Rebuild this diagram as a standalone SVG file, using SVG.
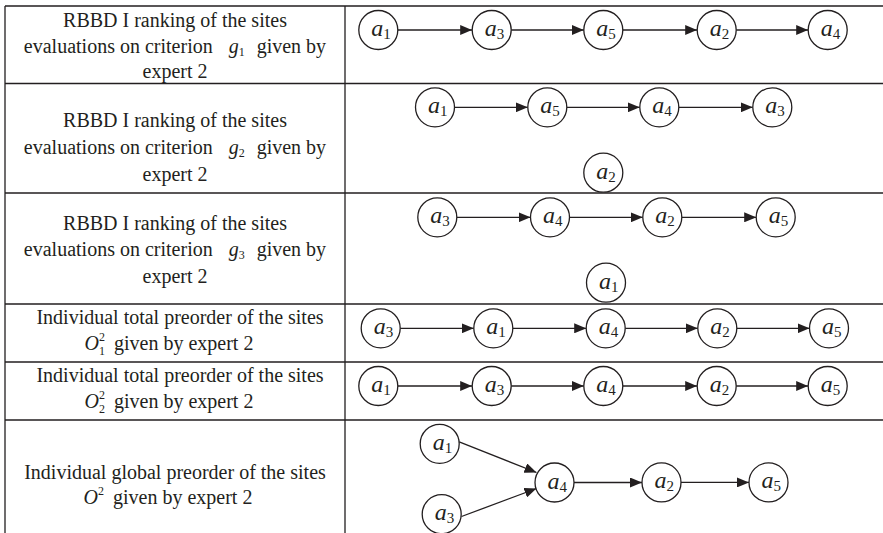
<svg xmlns="http://www.w3.org/2000/svg" width="883" height="533" viewBox="0 0 883 533">
<style>
.grid{stroke:#231f20;stroke-width:1.3;fill:none}
.lbl{font-family:"Liberation Serif","Times New Roman",serif;font-size:20px;fill:#231f20;text-anchor:middle}
.it{font-style:italic}
.sm{font-size:12px}
.node circle{fill:#fff;stroke:#231f20;stroke-width:1.3}
.node text{font-family:"Liberation Serif","Times New Roman",serif;font-size:24px;fill:#231f20;text-anchor:middle}
.node .a{font-style:italic}
.node .s{font-size:15px;font-style:normal}
.edge{stroke:#231f20;stroke-width:1.3;fill:none;marker-end:url(#ah)}
</style>
<defs>
<marker id="ah" markerWidth="12" markerHeight="10" refX="12" refY="5" orient="auto" markerUnits="userSpaceOnUse"><path d="M0,0 L12,5 L0,10 z" fill="#231f20"/></marker>
</defs>
<rect width="883" height="533" fill="#fff"/>
<g id="table">
<path class="grid" d="M5,6H883M5,83.5H883M5,193H883M5,304H883M5,362H883M5,420H883M5,6V533M345,6V533"/>
</g>
<g id="labels">
<text class="lbl" x="175" y="26.5">RBBD I ranking of the sites</text>
<text class="lbl" x="175" y="52.5">evaluations on criterion<tspan class="it" dx="16">g</tspan><tspan class="sm" dy="3">1</tspan><tspan dy="-3" dx="12">given by</tspan></text>
<text class="lbl" x="175" y="77.5">expert 2</text>
<text class="lbl" x="175" y="127">RBBD I ranking of the sites</text>
<text class="lbl" x="175" y="154">evaluations on criterion<tspan class="it" dx="16">g</tspan><tspan class="sm" dy="3">2</tspan><tspan dy="-3" dx="12">given by</tspan></text>
<text class="lbl" x="175" y="180.5">expert 2</text>
<text class="lbl" x="175" y="229.5">RBBD I ranking of the sites</text>
<text class="lbl" x="175" y="256">evaluations on criterion<tspan class="it" dx="16">g</tspan><tspan class="sm" dy="3">3</tspan><tspan dy="-3" dx="12">given by</tspan></text>
<text class="lbl" x="175" y="282.5">expert 2</text>
<text class="lbl" x="180" y="323.5">Individual total preorder of the sites</text>
<text class="lbl" x="169" y="349.5"><tspan class="it">O</tspan><tspan class="sm" dy="-9">2</tspan><tspan class="sm" dx="-6" dy="14">1</tspan><tspan dy="-5" dx="9">given by expert 2</tspan></text>
<text class="lbl" x="180" y="381.5">Individual total preorder of the sites</text>
<text class="lbl" x="169" y="407.5"><tspan class="it">O</tspan><tspan class="sm" dy="-9">2</tspan><tspan class="sm" dx="-6" dy="14">2</tspan><tspan dy="-5" dx="9">given by expert 2</tspan></text>
<text class="lbl" x="175" y="478.5">Individual global preorder of the sites</text>
<text class="lbl" x="168" y="503.5"><tspan class="it">O</tspan><tspan class="sm" dy="-9">2</tspan><tspan dy="9" dx="9">given by expert 2</tspan></text>
</g>
<g id="connectors">
<path class="edge" d="M397.8,30H472.2"/>
<path class="edge" d="M511.2,30H583.8"/>
<path class="edge" d="M622.8,30H697.2"/>
<path class="edge" d="M736.2,30H808.2"/>
<path class="edge" d="M454.5,107.3H527.8"/>
<path class="edge" d="M566.8,107.3H639.8"/>
<path class="edge" d="M678.8,107.3H752.8"/>
<path class="edge" d="M456.8,217.3H530.5"/>
<path class="edge" d="M569.5,217.3H642.8"/>
<path class="edge" d="M681.8,217.3H756.2"/>
<path class="edge" d="M400.2,328.3H473.8"/>
<path class="edge" d="M512.8,328.3H586.2"/>
<path class="edge" d="M625.2,328.3H697.8"/>
<path class="edge" d="M736.8,328.3H809.5"/>
<path class="edge" d="M397.8,386H472.2"/>
<path class="edge" d="M511.2,386H583.8"/>
<path class="edge" d="M622.8,386H697.2"/>
<path class="edge" d="M736.2,386H808.2"/>
<path class="edge" d="M459.2,441.8L536.5,472.5"/>
<path class="edge" d="M461.5,516.5L536.5,488.5"/>
<path class="edge" d="M574,482.5H642"/>
<path class="edge" d="M681,482.4H749"/>
</g>
<g id="r1-a1" class="node"><circle cx="378.3" cy="30" r="19.5"/><text x="381" y="36"><tspan class="a">a</tspan><tspan class="s" dy="3">1</tspan></text></g>
<g id="r1-a3" class="node"><circle cx="491.7" cy="30" r="19.5"/><text x="494.4" y="36"><tspan class="a">a</tspan><tspan class="s" dy="3">3</tspan></text></g>
<g id="r1-a5" class="node"><circle cx="603.3" cy="30" r="19.5"/><text x="606" y="36"><tspan class="a">a</tspan><tspan class="s" dy="3">5</tspan></text></g>
<g id="r1-a2" class="node"><circle cx="716.7" cy="30" r="19.5"/><text x="719.4" y="36"><tspan class="a">a</tspan><tspan class="s" dy="3">2</tspan></text></g>
<g id="r1-a4" class="node"><circle cx="827.7" cy="30" r="19.5"/><text x="830.4" y="36"><tspan class="a">a</tspan><tspan class="s" dy="3">4</tspan></text></g>
<g id="r2-a1" class="node"><circle cx="435" cy="107.3" r="19.5"/><text x="437.7" y="113.3"><tspan class="a">a</tspan><tspan class="s" dy="3">1</tspan></text></g>
<g id="r2-a5" class="node"><circle cx="547.3" cy="107.3" r="19.5"/><text x="550" y="113.3"><tspan class="a">a</tspan><tspan class="s" dy="3">5</tspan></text></g>
<g id="r2-a4" class="node"><circle cx="659.3" cy="107.3" r="19.5"/><text x="662" y="113.3"><tspan class="a">a</tspan><tspan class="s" dy="3">4</tspan></text></g>
<g id="r2-a3" class="node"><circle cx="772.3" cy="107.3" r="19.5"/><text x="775" y="113.3"><tspan class="a">a</tspan><tspan class="s" dy="3">3</tspan></text></g>
<g id="r2-a2" class="node"><circle cx="603.3" cy="172.7" r="19.5"/><text x="606" y="178.7"><tspan class="a">a</tspan><tspan class="s" dy="3">2</tspan></text></g>
<g id="r3-a3" class="node"><circle cx="437.3" cy="217.3" r="19.5"/><text x="440" y="223.3"><tspan class="a">a</tspan><tspan class="s" dy="3">3</tspan></text></g>
<g id="r3-a4" class="node"><circle cx="550" cy="217.3" r="19.5"/><text x="552.7" y="223.3"><tspan class="a">a</tspan><tspan class="s" dy="3">4</tspan></text></g>
<g id="r3-a2" class="node"><circle cx="662.3" cy="217.3" r="19.5"/><text x="665" y="223.3"><tspan class="a">a</tspan><tspan class="s" dy="3">2</tspan></text></g>
<g id="r3-a5" class="node"><circle cx="775.7" cy="217.3" r="19.5"/><text x="778.4" y="223.3"><tspan class="a">a</tspan><tspan class="s" dy="3">5</tspan></text></g>
<g id="r3-a1" class="node"><circle cx="606" cy="282.7" r="19.5"/><text x="608.7" y="288.7"><tspan class="a">a</tspan><tspan class="s" dy="3">1</tspan></text></g>
<g id="r4-a3" class="node"><circle cx="380.7" cy="328.3" r="19.5"/><text x="383.4" y="334.3"><tspan class="a">a</tspan><tspan class="s" dy="3">3</tspan></text></g>
<g id="r4-a1" class="node"><circle cx="493.3" cy="328.3" r="19.5"/><text x="496" y="334.3"><tspan class="a">a</tspan><tspan class="s" dy="3">1</tspan></text></g>
<g id="r4-a4" class="node"><circle cx="605.7" cy="328.3" r="19.5"/><text x="608.4" y="334.3"><tspan class="a">a</tspan><tspan class="s" dy="3">4</tspan></text></g>
<g id="r4-a2" class="node"><circle cx="717.3" cy="328.3" r="19.5"/><text x="720" y="334.3"><tspan class="a">a</tspan><tspan class="s" dy="3">2</tspan></text></g>
<g id="r4-a5" class="node"><circle cx="829" cy="328.3" r="19.5"/><text x="831.7" y="334.3"><tspan class="a">a</tspan><tspan class="s" dy="3">5</tspan></text></g>
<g id="r5-a1" class="node"><circle cx="378.3" cy="386" r="19.5"/><text x="381" y="392"><tspan class="a">a</tspan><tspan class="s" dy="3">1</tspan></text></g>
<g id="r5-a3" class="node"><circle cx="491.7" cy="386" r="19.5"/><text x="494.4" y="392"><tspan class="a">a</tspan><tspan class="s" dy="3">3</tspan></text></g>
<g id="r5-a4" class="node"><circle cx="603.3" cy="386" r="19.5"/><text x="606" y="392"><tspan class="a">a</tspan><tspan class="s" dy="3">4</tspan></text></g>
<g id="r5-a2" class="node"><circle cx="716.7" cy="386" r="19.5"/><text x="719.4" y="392"><tspan class="a">a</tspan><tspan class="s" dy="3">2</tspan></text></g>
<g id="r5-a5" class="node"><circle cx="827.7" cy="386" r="19.5"/><text x="830.4" y="392"><tspan class="a">a</tspan><tspan class="s" dy="3">5</tspan></text></g>
<g id="r6-a1" class="node"><circle cx="439.7" cy="443.8" r="19.5"/><text x="442.4" y="449.8"><tspan class="a">a</tspan><tspan class="s" dy="3">1</tspan></text></g>
<g id="r6-a3" class="node"><circle cx="441.7" cy="514.2" r="19.5"/><text x="444.4" y="520.2"><tspan class="a">a</tspan><tspan class="s" dy="3">3</tspan></text></g>
<g id="r6-a4" class="node"><circle cx="554.5" cy="482.5" r="19.5"/><text x="557.2" y="488.5"><tspan class="a">a</tspan><tspan class="s" dy="3">4</tspan></text></g>
<g id="r6-a2" class="node"><circle cx="661.5" cy="482.4" r="19.5"/><text x="664.2" y="488.4"><tspan class="a">a</tspan><tspan class="s" dy="3">2</tspan></text></g>
<g id="r6-a5" class="node"><circle cx="768.5" cy="482.4" r="19.5"/><text x="771.2" y="488.4"><tspan class="a">a</tspan><tspan class="s" dy="3">5</tspan></text></g>
</svg>
